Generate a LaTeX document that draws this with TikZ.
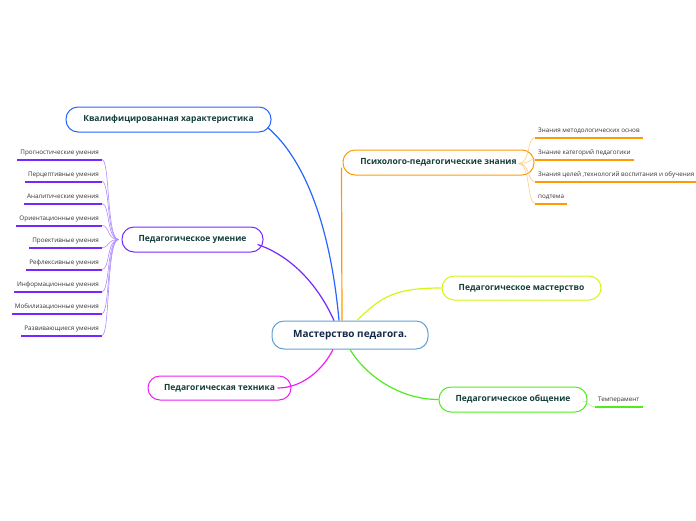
\documentclass[tikz,border=0pt]{standalone}
\usepackage{fontspec}
\setmainfont{Open Sans}
\definecolor{textc}{RGB}{20,62,56}
\definecolor{navyc}{RGB}{22,40,70}
\definecolor{leafc}{RGB}{50,50,50}
\definecolor{centerc}{RGB}{95,160,215}
\definecolor{bluec}{RGB}{40,100,255}
\definecolor{purplec}{RGB}{120,40,255}
\definecolor{lpurplec}{RGB}{175,140,255}
\definecolor{orangec}{RGB}{255,155,0}
\definecolor{lorangec}{RGB}{255,205,130}
\definecolor{yellowc}{RGB}{215,245,20}
\definecolor{greenc}{RGB}{80,235,30}
\definecolor{lgreenc}{RGB}{170,245,140}
\definecolor{magentac}{RGB}{240,30,240}

\begin{document}
\begin{tikzpicture}[x=1pt,y=-1pt]
\tikzstyle{topic}=[draw,rounded corners=12pt,line width=1pt,minimum height=25pt,inner sep=0pt,text=textc,font=\bfseries\fontsize{8.5}{10}\selectfont]
\tikzstyle{leaf}=[inner xsep=3pt,inner ysep=3.5pt,text=leafc,font=\fontsize{6.3}{7}\selectfont]
\tikzstyle{uline}=[line width=2pt]
\tikzstyle{twig}=[line width=0.6pt]
\useasboundingbox (0,0) rectangle (696,520);

\node[topic,draw=centerc,minimum width=156pt,minimum height=28pt,text=navyc,font=\bfseries\fontsize{10}{12}\selectfont] (m) at (350,335) {Мастерство педагога.};
\node[topic,draw=bluec,minimum width=205pt] (k) at (168.5,119.5) {Квалифицированная характеристика};
\node[topic,draw=purplec,minimum width=141pt] (u) at (192.5,239.5) {Педагогическое умение};
\node[topic,draw=orangec,minimum width=191pt] (p) at (438.5,162.5) {Психолого-педагогические знания};
\node[topic,draw=yellowc,minimum width=159pt,minimum height=24pt] (pm) at (521.5,288) {Педагогическое мастерство};
\node[topic,draw=greenc,minimum width=148pt] (po) at (513,399.5) {Педагогическое общение};
\node[topic,draw=magentac,minimum width=143pt,minimum height=24pt] (pt) at (219.5,388) {Педагогическая техника};

\draw[bluec,line width=1.2pt] ([shift={(-11,0)}]m.north) .. controls +(-10,-110) and +(30,25) .. ([shift={(-4,8)}]k.east);
\draw[purplec,line width=1.2pt] ([shift={(-16,0)}]m.north) .. controls +(-18,-40) and +(30,10) .. ([shift={(-6,5)}]u.east);
\draw[orangec,line width=1.2pt] ([shift={(-8,0)}]m.north) -- ([shift={(-1,5)}]p.west);
\draw[yellowc,line width=1.2pt] ([shift={(7,0)}]m.north) .. controls +(25,-25) and +(-45,0) .. (pm.west);
\draw[magentac,line width=1.2pt] ([shift={(-17,0)}]m.south) .. controls +(-10,20) and +(25,0) .. ([shift={(-14,0)}]pt.east);
\draw[greenc,line width=1.2pt] (m.south) .. controls +(15,25) and +(-40,0) .. (po.west);

\node[leaf,anchor=south east] (u1) at (102,159.5) {Прогностические умения};
\node[leaf,anchor=south east] (u2) at (102,181.5) {Перцептивные умения};
\node[leaf,anchor=south east] (u3) at (102,203.5) {Аналитические умения};
\node[leaf,anchor=south east] (u4) at (102,225.5) {Ориентационные умения};
\node[leaf,anchor=south east] (u5) at (102,247.5) {Проективные умения};
\node[leaf,anchor=south east] (u6) at (102,269.5) {Рефлексивные умения};
\node[leaf,anchor=south east] (u7) at (102,291.5) {Информационные умения};
\node[leaf,anchor=south east] (u8) at (102,313.5) {Мобилизационные умения};
\node[leaf,anchor=south east] (u9) at (102,335.5) {Развивающиеся умения};

\draw[twig,draw=lpurplec] ([shift={(-3,0)}]u.west) .. controls +(-12,0) and +(8,0) .. (u1.south east);
\draw[twig,draw=lpurplec] ([shift={(-3,0)}]u.west) .. controls +(-12,0) and +(8,0) .. (u2.south east);
\draw[twig,draw=lpurplec] ([shift={(-3,0)}]u.west) .. controls +(-12,0) and +(8,0) .. (u3.south east);
\draw[twig,draw=lpurplec] ([shift={(-3,0)}]u.west) .. controls +(-12,0) and +(8,0) .. (u4.south east);
\draw[twig,draw=lpurplec] ([shift={(-3,0)}]u.west) .. controls +(-12,0) and +(8,0) .. (u5.south east);
\draw[twig,draw=lpurplec] ([shift={(-3,0)}]u.west) .. controls +(-12,0) and +(8,0) .. (u6.south east);
\draw[twig,draw=lpurplec] ([shift={(-3,0)}]u.west) .. controls +(-12,0) and +(8,0) .. (u7.south east);
\draw[twig,draw=lpurplec] ([shift={(-3,0)}]u.west) .. controls +(-12,0) and +(8,0) .. (u8.south east);
\draw[twig,draw=lpurplec] ([shift={(-3,0)}]u.west) .. controls +(-12,0) and +(8,0) .. (u9.south east);

\draw[uline,draw=purplec] (u1.south west) -- (u1.south east);
\draw[uline,draw=purplec] (u2.south west) -- (u2.south east);
\draw[uline,draw=purplec] (u3.south west) -- (u3.south east);
\draw[uline,draw=purplec] (u4.south west) -- (u4.south east);
\draw[uline,draw=purplec] (u5.south west) -- (u5.south east);
\draw[uline,draw=purplec] (u6.south west) -- (u6.south east);
\draw[uline,draw=purplec] (u7.south west) -- (u7.south east);
\draw[uline,draw=purplec] (u8.south west) -- (u8.south east);
\draw[uline,draw=purplec] (u9.south west) -- (u9.south east);

\node[leaf,anchor=south west] (z1) at (535,137.5) {Знания методологических основ};
\node[leaf,anchor=south west] (z2) at (535,159.5) {Знание категорий педагогики};
\node[leaf,anchor=south west] (z3) at (535,181.5) {Знания целей ,технологий воспитания и обучения};
\node[leaf,anchor=south west] (z4) at (535,203.5) {подтема};

\draw[twig,draw=lorangec] ([shift={(-16,1)}]p.east) .. controls +(12,0) and +(-8,0) .. (z1.south west);
\draw[twig,draw=lorangec] ([shift={(-16,1)}]p.east) .. controls +(12,0) and +(-8,0) .. (z2.south west);
\draw[twig,draw=lorangec] ([shift={(-16,1)}]p.east) .. controls +(12,0) and +(-8,0) .. (z3.south west);
\draw[twig,draw=lorangec] ([shift={(-16,1)}]p.east) .. controls +(12,0) and +(-8,0) .. (z4.south west);

\draw[uline,draw=orangec] (z1.south west) -- (z1.south east);
\draw[uline,draw=orangec] (z2.south west) -- (z2.south east);
\draw[uline,draw=orangec] (z3.south west) -- (z3.south east);
\draw[uline,draw=orangec] (z4.south west) -- (z4.south east);

\node[leaf,anchor=south west] (t1) at (595,407) {Темперамент};
\draw[twig,draw=lgreenc] ([shift={(-5,2)}]po.east) .. controls +(8,0) and +(-6,0) .. (t1.south west);
\draw[uline,draw=greenc] (t1.south west) -- (t1.south east);
\end{tikzpicture}
\end{document}
